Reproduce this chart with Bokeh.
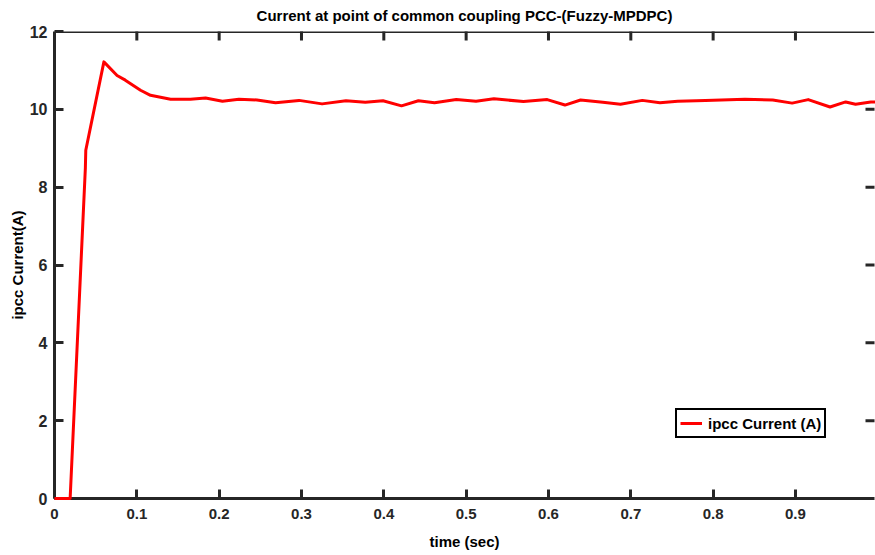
import math
from bokeh.plotting import figure
from bokeh.models import FixedTicker, Range1d, Legend, LegendItem, Span
from bokeh.embed import file_html
from bokeh.resources import INLINE

# ---- data ----
time_s = [0.0, 0.019, 0.0375, 0.038, 0.060, 0.076, 0.086, 0.1045, 0.1166, 0.141,
          0.165, 0.1835, 0.204, 0.224, 0.246, 0.2685, 0.297, 0.325, 0.354, 0.3775,
          0.399, 0.4215, 0.442, 0.4616, 0.488, 0.512, 0.5337, 0.5696, 0.5985, 0.620,
          0.639, 0.666, 0.6874, 0.714, 0.7354, 0.757, 0.7906, 0.8387, 0.8724, 0.896,
          0.9155, 0.942, 0.961, 0.973, 0.9915, 1.0]
ipcc_A = [0.0, 0.0, 8.5, 8.95, 11.22, 10.87, 10.75, 10.49, 10.36, 10.26,
          10.26, 10.29, 10.21, 10.26, 10.24, 10.17, 10.23, 10.14, 10.22, 10.18,
          10.22, 10.09, 10.22, 10.17, 10.25, 10.21, 10.27, 10.20, 10.25, 10.11,
          10.24, 10.18, 10.13, 10.23, 10.17, 10.21, 10.23, 10.26, 10.24, 10.16,
          10.25, 10.06, 10.19, 10.13, 10.19, 10.19]

x_ticks = [0, 0.1, 0.2, 0.3, 0.4, 0.5, 0.6, 0.7, 0.8, 0.9, 1]
x_tick_labels = ["0", "0.1", "0.2", "0.3", "0.4", "0.5", "0.6", "0.7", "0.8", "0.9", "1"]
y_ticks = [0, 2, 4, 6, 8, 10, 12]

title_text = "Current at point of common coupling PCC-(Fuzzy-MPDPC)"
x_label = "time (sec)"
y_label = "ipcc Current(A)"
legend_label = "ipcc Current (A)"

X_END = 0.996
Y_END = 12
FONT = "Liberation Sans"
AX = "#262626"

p = figure(width=875, height=555, output_backend="svg", toolbar_location=None,
           x_range=Range1d(0, X_END), y_range=Range1d(0, Y_END),
           min_border_left=54, min_border_right=1, min_border_top=0,
           min_border_bottom=57)
p.background_fill_color = "white"
p.border_fill_color = "white"
p.outline_line_color = None
p.grid.visible = False

p.title.text = title_text
p.title.text_font = FONT
p.title.text_font_size = "15px"
p.title.text_font_style = "bold"
p.title.text_color = "black"
p.title.align = "center"
p.title.vertical_align = "top"
p.title.standoff = 12

def style_axis(ax, ticks, size):
    ax.ticker = FixedTicker(ticks=ticks)
    ax.axis_line_width = 3
    ax.axis_line_color = AX
    ax.major_tick_line_width = 3
    ax.major_tick_line_color = AX
    ax.major_tick_in = 9
    ax.major_tick_out = 0
    ax.minor_tick_line_color = None
    ax.major_label_text_font = FONT
    ax.major_label_text_font_style = "bold"
    ax.major_label_text_color = AX
    ax.major_label_text_font_size = size
    ax.axis_label_text_font = FONT
    ax.axis_label_text_font_size = "15px"
    ax.axis_label_text_font_style = "bold"
    ax.axis_label_text_color = "black"

xa = p.xaxis[0]
style_axis(xa, x_ticks, "15px")
xa.major_label_overrides = {t: l for t, l in zip(x_ticks, x_tick_labels)}
xa.major_label_standoff = 10
xa.axis_label = x_label
xa.axis_label_standoff = 11

ya = p.yaxis[0]
style_axis(ya, y_ticks, "16px")
ya.major_label_standoff = 7
ya.axis_label = y_label
ya.axis_label_standoff = 1

# box line on top (the right edge of the box lies outside the picture)
p.add_layout(Span(location=Y_END, dimension="width", line_color=AX, line_width=3))

# inward ticks on the top and right sides of the box
top_x = [t for t in x_ticks if 0 < t < X_END]
p.scatter(x=top_x, y=[Y_END] * len(top_x), marker="dash", size=18,
          angle=math.pi / 2, line_color=AX, line_width=3)
right_y = [t for t in y_ticks if 0 < t < Y_END]
p.scatter(x=[X_END] * len(right_y), y=right_y, marker="dash", size=18,
          line_color=AX, line_width=3)

r = p.line(time_s, ipcc_A, line_color="red", line_width=3, line_join="round",
           level="overlay")

legend = Legend(items=[LegendItem(label=legend_label, renderers=[r])],
                location=(621, 60), orientation="vertical")
legend.label_text_font = FONT
legend.label_text_font_size = "15px"
legend.label_text_font_style = "bold"
legend.label_text_color = "black"
legend.border_line_color = "black"
legend.border_line_width = 2.5
legend.border_line_alpha = 1
legend.padding = 3
legend.margin = 0
legend.spacing = 0
legend.glyph_width = 22
legend.glyph_height = 20
legend.label_height = 20
legend.label_standoff = 6
legend.background_fill_alpha = 1
p.add_layout(legend, "center")

open("out.html", "w").write(file_html(p, INLINE))
